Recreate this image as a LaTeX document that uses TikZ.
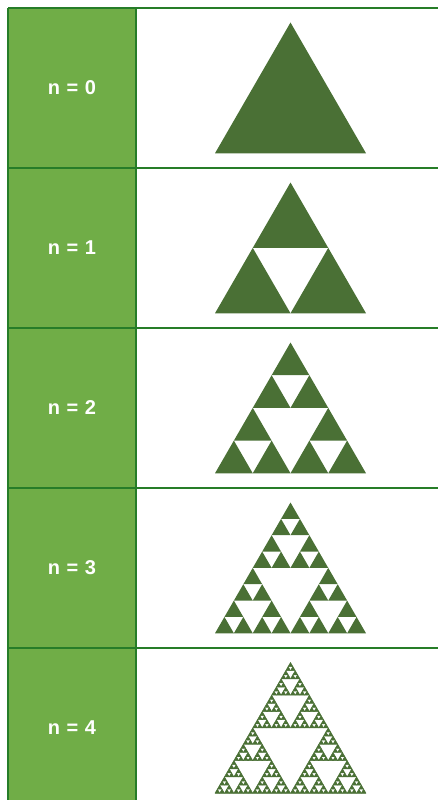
\documentclass[tikz,border=0pt]{standalone}
\usepackage{fontspec}
\setmainfont{Liberation Sans}
\definecolor{cellgreen}{HTML}{70AD47}
\definecolor{trigreen}{HTML}{4A7035}
\definecolor{rulegreen}{HTML}{267D28}
\tikzset{
  tri/.style={fill=trigreen},
  trithick/.style={fill=trigreen, draw=trigreen, line width=0.55pt, line join=round},
  rowlabel/.style={text=white, font=\bfseries\fontsize{20}{22}\selectfont, anchor=center},
  rule/.style={draw=rulegreen, line width=1.4pt}
}
\newcommand\trist{tri}
\newcommand\sierp[4]{%
  \ifnum#4=0\relax
    \path[\trist] (#1,#2) -- ++({-#3/2},{#3*0.8660254}) -- ++(#3,0) -- cycle;
  \else
    \begingroup
    \pgfmathsetmacro\hs{#3/2}%
    \pgfmathsetmacro\xl{#1-#3/4}%
    \pgfmathsetmacro\xr{#1+#3/4}%
    \pgfmathsetmacro\yl{#2+#3*0.4330127}%
    \pgfmathtruncatemacro\dd{#4-1}%
    \edef\next{\noexpand\sierp{#1}{#2}{\hs}{\dd}\noexpand\sierp{\xl}{\yl}{\hs}{\dd}\noexpand\sierp{\xr}{\yl}{\hs}{\dd}}%
    \next
    \endgroup
  \fi}
\newcommand\lab[1]{n\hspace{6.5pt}=\hspace{6.5pt}#1}
\begin{document}
\begin{tikzpicture}[x=1pt,y=-1pt]
\useasboundingbox (0,0) rectangle (438,800);
\fill[cellgreen] (8,8) rectangle (136,800);
% triangles
\sierp{290.5}{22.5}{151}{0}
\sierp{290.5}{182.5}{151}{1}
\sierp{290.5}{342.5}{151}{2}
\sierp{290.5}{502.5}{151}{3}
\renewcommand\trist{trithick}
\sierp{290.5}{662.5}{151}{5}
% rules
\foreach \yy in {8,168,328,488,648} \draw[rule] (8,\yy) -- (438,\yy);
\draw[rule] (8,8) -- (8,800);
\draw[rule] (136,8) -- (136,800);
% labels
\node[rowlabel] (l0) at (72,88) {\lab{0}};
\node[rowlabel] (l1) at (72,248) {\lab{1}};
\node[rowlabel] (l2) at (72,408) {\lab{2}};
\node[rowlabel] (l3) at (72,568) {\lab{3}};
\node[rowlabel] (l4) at (72,728) {\lab{4}};
\end{tikzpicture}
\end{document}
